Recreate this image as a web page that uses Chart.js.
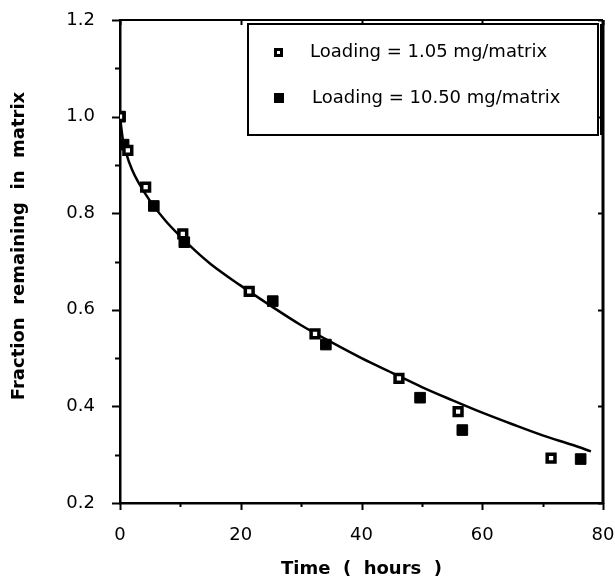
<!DOCTYPE html>
<html>
<head>
<meta charset="utf-8">
<script src="https://cdn.jsdelivr.net/npm/chart.js@4/dist/chart.umd.min.js"></script>
<style>
  html, body { margin: 0; padding: 0; background: #fff; }
  #wrap { width: 615px; height: 581px; position: relative; }
</style>
</head>
<body>
<div id="wrap"><canvas id="c" width="615" height="581"></canvas></div>
<script>
// ---- data ----
const seriesLabels = ["Loading = 1.05 mg/matrix", "Loading = 10.50 mg/matrix"];
const timeLow  = [0, 1.3, 4.25, 10.4, 21.4, 32.3, 46.2, 56.0, 71.4];
const fracLow  = [1.0, 0.930, 0.854, 0.757, 0.638, 0.550, 0.458, 0.389, 0.293];
const timeHigh = [0, 0.6, 5.6, 10.65, 25.3, 34.1, 49.7, 56.7, 76.3];
const fracHigh = [1.0, 0.942, 0.815, 0.740, 0.618, 0.528, 0.418, 0.351, 0.291];
const curveTime = [0, 0.5, 1, 2, 3, 5, 7.5, 10, 12.5, 15, 20, 25, 30, 35, 40, 45, 50, 55, 60, 65, 70, 75, 78];
const curveFrac = [1.0, 0.95, 0.925, 0.89, 0.865, 0.825, 0.785, 0.752, 0.722, 0.695, 0.650, 0.608, 0.568, 0.533, 0.500, 0.470, 0.440, 0.413, 0.387, 0.363, 0.340, 0.320, 0.307];
const xTitle = "Time  (  hours  )";
const yTitle = "Fraction  remaining  in  matrix";

const toXY = (xs, ys) => xs.map((x, i) => ({x: x, y: ys[i]}));

const FONT = "'DejaVu Sans', Verdana, sans-serif";

// draw minor/major ticks, frame, y title and the boxed legend
const decor = {
  id: 'decor',
  afterDraw(chart) {
    const ctx = chart.ctx;
    const xs = chart.scales.x, ys = chart.scales.y;
    const a = chart.chartArea;
    ctx.save();
    ctx.strokeStyle = '#000';
    // frame: top and right
    ctx.lineWidth = 2;
    ctx.beginPath();
    ctx.moveTo(a.left, a.top); ctx.lineTo(a.right, a.top);
    ctx.stroke();
    ctx.lineWidth = 3;
    ctx.beginPath();
    ctx.moveTo(a.right, a.top); ctx.lineTo(a.right, a.bottom + 1);
    ctx.stroke();
    // y ticks
    ctx.lineWidth = 2;
    for (let k = 2; k <= 12; k++) {
      const v = k / 10;
      const py = Math.round(ys.getPixelForValue(v)) + 0.5;
      const major = k % 2 === 0;
      ctx.beginPath();
      ctx.moveTo(a.left - (major ? 8 : 5), py); ctx.lineTo(a.left, py);
      ctx.stroke();
      if (major) {
        ctx.beginPath();
        ctx.moveTo(a.right - 5, py); ctx.lineTo(a.right, py);
        ctx.stroke();
      }
    }
    // x ticks
    for (let v = 0; v <= 80; v += 10) {
      const px = Math.round(xs.getPixelForValue(v)) + 0.5;
      const major = v % 20 === 0;
      ctx.beginPath();
      ctx.moveTo(px, a.bottom); ctx.lineTo(px, a.bottom + (major ? 7 : 4));
      ctx.stroke();
      if (major) {
        ctx.beginPath();
        ctx.moveTo(px, a.top); ctx.lineTo(px, a.top + 5);
        ctx.stroke();
      }
    }
    // y axis title
    ctx.save();
    ctx.translate(19, 246);
    ctx.rotate(-Math.PI / 2);
    ctx.fillStyle = '#000';
    ctx.font = "bold 18px " + FONT;
    ctx.textAlign = 'center';
    ctx.textBaseline = 'middle';
    ctx.fillText(yTitle, 0, 0);
    ctx.restore();
    // legend box
    const bx = 248, by = 24, bw = 350, bh = 111;
    ctx.fillStyle = '#fff';
    ctx.fillRect(bx, by, bw, bh);
    ctx.lineWidth = 2;
    ctx.strokeRect(bx, by, bw, bh);
    ctx.beginPath();
    ctx.moveTo(bx + bw + 3, by); ctx.lineTo(bx + bw + 3, by + bh);
    ctx.stroke();
    // legend entries
    const rows = [52, 97];
    ctx.fillStyle = '#000';
    ctx.fillRect(274, rows[0] - 4, 9, 9);
    ctx.fillStyle = '#fff';
    ctx.fillRect(277, rows[0] - 1, 3, 3);
    ctx.fillStyle = '#000';
    ctx.fillRect(274, rows[1] - 4, 10, 10);
    ctx.font = "18px " + FONT;
    ctx.textBaseline = 'middle';
    ctx.textAlign = 'left';
    ctx.fillText(seriesLabels[0], 310, rows[0]);
    ctx.fillText(seriesLabels[1], 312, rows[1] + 1);
    ctx.restore();
  }
};

new Chart(document.getElementById('c'), {
  type: 'scatter',
  data: {
    datasets: [
      {
        label: seriesLabels[0],
        data: toXY(timeLow, fracLow),
        pointStyle: 'rect',
        pointRadius: 5.5,
        pointBackgroundColor: '#fff',
        pointBorderColor: '#000',
        pointBorderWidth: 3.5,
        order: 1
      },
      {
        label: seriesLabels[1],
        data: toXY(timeHigh, fracHigh),
        pointStyle: 'rect',
        pointRadius: 7.5,
        pointBackgroundColor: '#000',
        pointBorderColor: '#000',
        pointBorderWidth: 1,
        order: 2
      },
      {
        label: 'fit',
        type: 'line',
        data: toXY(curveTime, curveFrac),
        borderColor: '#000',
        borderWidth: 2.5,
        pointRadius: 0,
        fill: false,
        cubicInterpolationMode: 'monotone',
        order: 3
      }
    ]
  },
  options: {
    responsive: false,
    animation: false,
    events: [],
    layout: { padding: { top: 20, right: 12, left: 0, bottom: 0 } },
    plugins: { legend: { display: false }, tooltip: { enabled: false } },
    scales: {
      x: {
        type: 'linear', min: 0, max: 80,
        afterFit(s) { s.height = 78; s.paddingLeft = 0; s.paddingRight = 0; },
        grid: { display: false },
        border: { display: true, color: '#000', width: 2.5 },
        ticks: {
          stepSize: 10, color: '#000', padding: 14,
          font: { family: FONT, size: 18 },
          callback: v => (v % 20 === 0 ? String(v) : '')
        },
        title: {
          display: true, text: xTitle, color: '#000',
          font: { family: FONT, size: 18, weight: 'bold' },
          padding: { top: 4, bottom: 1 }
        }
      },
      y: {
        type: 'linear', min: 0.2, max: 1.2,
        afterFit(s) { s.width = 120; s.paddingTop = 0; s.paddingBottom = 0; },
        grid: { display: false },
        border: { display: true, color: '#000', width: 2.5 },
        ticks: {
          stepSize: 0.1, color: '#000', padding: 17,
          font: { family: FONT, size: 18 },
          callback: v => (Math.round(v * 10) % 2 === 0 ? v.toFixed(1) : '')
        },
        title: { display: false }
      }
    }
  },
  plugins: [decor]
});
</script>
</body>
</html>
